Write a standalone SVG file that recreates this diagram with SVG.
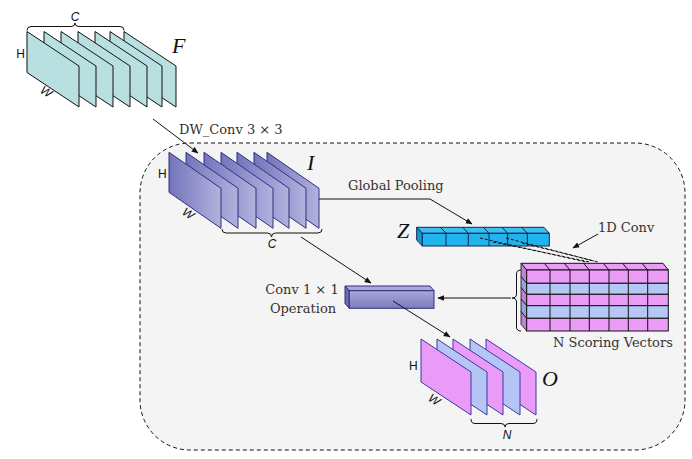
<svg xmlns="http://www.w3.org/2000/svg" width="692" height="459" viewBox="0 0 692 459">
<defs>
<style>
.lbl{font-family:"DejaVu Serif","Liberation Serif",serif;font-size:13px;fill:#333}
.big{font-family:"Liberation Serif","DejaVu Serif",serif;font-style:italic;font-size:22px;fill:#111}
.sans{font-family:"Liberation Sans",Arial,sans-serif;font-size:12px;fill:#111}
.it{font-style:italic}
.con{fill:none;stroke:#111;stroke-width:1}
.brace{fill:none;stroke:#111;stroke-width:1}
.fp{fill:#b8e0e0;stroke:#111;stroke-width:1}
.ip{fill:url(#gI);stroke:#2e2e80;stroke-width:1}
.pk{fill:#ea9bf7;stroke:#3a3aa0;stroke-width:1}
.bl{fill:#b5c5f6;stroke:#3a3aa0;stroke-width:1}
.zf{fill:#20b3ee;stroke:#10284a;stroke-width:1}
.zt{fill:#3cc0f2;stroke:#10284a;stroke-width:1}
.zl{fill:#1898d2;stroke:#10284a;stroke-width:1}
.gp{fill:#ea9cf6;stroke:#111;stroke-width:1}
.gb{fill:#b5c8f5;stroke:#111;stroke-width:1}
.gpl{fill:#c47fd8;stroke:#111;stroke-width:0.8}
.gbl{fill:#90a6d6;stroke:#111;stroke-width:0.8}
.ln{stroke:#111;stroke-width:1}
.zln{stroke:#10284a;stroke-width:1}
</style>
<linearGradient id="gI" x1="0" y1="0" x2="1" y2="0">
<stop offset="0" stop-color="#7474bb"/>
<stop offset="1" stop-color="#b2b2de"/>
</linearGradient>
<linearGradient id="gC" x1="0" y1="0" x2="0" y2="1">
<stop offset="0" stop-color="#a8a8d8"/>
<stop offset="1" stop-color="#7c7cc0"/>
</linearGradient>
<marker id="ah" viewBox="0 0 10 10" refX="9" refY="5" markerWidth="7" markerHeight="7" orient="auto" markerUnits="userSpaceOnUse">
<path d="M0,1 L10,5 L0,9 z" fill="#111"/>
</marker>
<polygon id="fplate" points="0,0 52,34.5 52,75.5 0,41"/>
<polygon id="iplate" points="0,0 52,36 52,76 0,40"/>
<polygon id="oplate" points="0,0 50,33 50,76 0,43"/>
</defs>
<rect width="692" height="459" fill="#ffffff"/>
<rect id="container" x="140" y="143" width="545" height="307" rx="50" ry="50" fill="#f4f4f4" stroke="#111" stroke-width="1" stroke-dasharray="4,3"/>

<g id="F">
<use href="#fplate" class="fp" x="124" y="31.5"/>
<use href="#fplate" class="fp" x="110" y="31.5"/>
<use href="#fplate" class="fp" x="95" y="31.5"/>
<use href="#fplate" class="fp" x="78" y="31.5"/>
<use href="#fplate" class="fp" x="61" y="31.5"/>
<use href="#fplate" class="fp" x="44" y="31.5"/>
<use href="#fplate" class="fp" x="27" y="31.5"/>
<path class="brace" d="M27,30.5 Q27,26.5 31,26.5 L71,26.5 Q75,26.5 75,23 Q75,26.5 79,26.5 L120,26.5 Q124,26.5 124,30.5"/>
<text class="sans it" x="75" y="21" text-anchor="middle">C</text>
<text class="sans" x="20.5" y="57.5" text-anchor="middle">H</text>
<text class="sans it" transform="translate(44,95) rotate(33)" text-anchor="middle">W</text>
<text class="big" x="172" y="53">F</text>
</g>

<g id="I">
<use href="#iplate" class="ip" x="267" y="152.3"/>
<use href="#iplate" class="ip" x="254" y="152.3"/>
<use href="#iplate" class="ip" x="237" y="152.3"/>
<use href="#iplate" class="ip" x="221" y="152.3"/>
<use href="#iplate" class="ip" x="204" y="152.3"/>
<use href="#iplate" class="ip" x="186" y="152.3"/>
<use href="#iplate" class="ip" x="169" y="152.3"/>
<path class="brace" d="M222,229 Q222,233 226,233 L267.5,233 Q271.5,233 271.5,237 Q271.5,233 275.5,233 L318,233 Q322,233 322,229"/>
<text class="sans it" x="272" y="248" text-anchor="middle">C</text>
<text class="sans" x="162.3" y="177.5" text-anchor="middle">H</text>
<text class="sans it" transform="translate(186,217) rotate(34)" text-anchor="middle">W</text>
<text class="big" x="307" y="170">I</text>
</g>

<g id="Z">
<polygon class="zt" points="416.7,227.3 544,227.3 549.3,233.3 422.3,233.3"/>
<polygon class="zl" points="416.7,227.3 422.3,233.3 422.3,246 416.7,240"/>
<rect class="zf" x="422.3" y="233.3" width="127" height="12.7"/>
<g class="zln">
<line x1="446" y1="233.3" x2="446" y2="246"/><line x1="446" y1="233.3" x2="440.4" y2="227.3"/>
<line x1="468.3" y1="233.3" x2="468.3" y2="246"/><line x1="468.3" y1="233.3" x2="462.7" y2="227.3"/>
<line x1="489" y1="233.3" x2="489" y2="246"/><line x1="489" y1="233.3" x2="483.4" y2="227.3"/>
<line x1="507.7" y1="233.3" x2="507.7" y2="246"/><line x1="507.7" y1="233.3" x2="502.1" y2="227.3"/>
<line x1="527.3" y1="233.3" x2="527.3" y2="246"/><line x1="527.3" y1="233.3" x2="521.7" y2="227.3"/>
</g>
<text class="big" x="397" y="238">Z</text>
</g>

<g id="grid">
<polygon class="gp" points="521,263.3 663,263.3 668.3,270 526.7,270"/>
<polygon class="gpl" points="521,263.3 526.7,270 526.7,283.3 521,276.6"/>
<polygon class="gbl" points="521,276.6 526.7,283.3 526.7,294.3 521,287.6"/>
<polygon class="gpl" points="521,287.6 526.7,294.3 526.7,305.7 521,299"/>
<polygon class="gbl" points="521,299 526.7,305.7 526.7,318.3 521,311.6"/>
<polygon class="gpl" points="521,311.6 526.7,318.3 526.7,331 521,324.3"/>
<rect class="gp" x="526.7" y="270" width="141.6" height="13.3"/>
<rect class="gb" x="526.7" y="283.3" width="141.6" height="11"/>
<rect class="gp" x="526.7" y="294.3" width="141.6" height="11.4"/>
<rect class="gb" x="526.7" y="305.7" width="141.6" height="12.6"/>
<rect class="gp" x="526.7" y="318.3" width="141.6" height="12.7"/>
<g class="ln">
<line x1="550" y1="270" x2="550" y2="331"/>
<line x1="570" y1="270" x2="570" y2="331"/>
<line x1="589.3" y1="270" x2="589.3" y2="331"/>
<line x1="609" y1="270" x2="609" y2="331"/>
<line x1="628.3" y1="270" x2="628.3" y2="331"/>
<line x1="647.7" y1="270" x2="647.7" y2="331"/>
<line x1="550" y1="270" x2="544.3" y2="263.3"/>
<line x1="570" y1="270" x2="564.3" y2="263.3"/>
<line x1="589.3" y1="270" x2="583.6" y2="263.3"/>
<line x1="609" y1="270" x2="603.3" y2="263.3"/>
<line x1="628.3" y1="270" x2="622.6" y2="263.3"/>
<line x1="647.7" y1="270" x2="642" y2="263.3"/>
</g>
<path class="brace" d="M521,270 Q516.5,270 516.5,274 L516.5,294 Q516.5,298 512,298 Q516.5,298 516.5,302 L516.5,327 Q516.5,331 521,331"/>
<text class="lbl" x="553" y="347">N Scoring Vectors</text>
</g>

<g id="conv">
<polygon points="345,286 430,286 434,290.7 349.3,290.7" fill="#a9a9da" stroke="#2f2f80" stroke-width="1"/>
<polygon points="345,286 349.3,290.7 349.3,308.3 345,303.6" fill="#6c6cb0" stroke="#2f2f80" stroke-width="1"/>
<rect x="349.3" y="290.7" width="84.7" height="17.6" fill="url(#gC)" stroke="#2f2f80" stroke-width="1"/>
<text class="lbl" x="302" y="294" text-anchor="middle">Conv 1 × 1</text>
<text class="lbl" x="303" y="313" text-anchor="middle">Operation</text>
</g>

<g id="O">
<use href="#oplate" class="pk" x="486" y="339"/>
<use href="#oplate" class="bl" x="470" y="339"/>
<use href="#oplate" class="pk" x="453" y="339"/>
<use href="#oplate" class="bl" x="437" y="339"/>
<use href="#oplate" class="pk" x="421" y="339"/>
<path class="brace" d="M471,419 Q471,423.5 475,423.5 L501,423.5 Q505,423.5 505,427 Q505,423.5 509,423.5 L533,423.5 Q537,423.5 537,419"/>
<text class="sans it" x="507" y="438.5" text-anchor="middle">N</text>
<text class="sans" x="413.3" y="369.5" text-anchor="middle">H</text>
<text class="sans it" transform="translate(432,403) rotate(33)" text-anchor="middle">W</text>
<text class="big" x="542" y="386">O</text>
</g>

<g id="connectors">
<line class="con" x1="153" y1="119" x2="198" y2="153" marker-end="url(#ah)"/>
<polyline class="con" points="319,199 430,199 472,224" marker-end="url(#ah)"/>
<line class="con" x1="598" y1="234" x2="573" y2="248" marker-end="url(#ah)"/>
<line class="con" x1="301" y1="237" x2="371" y2="283" marker-end="url(#ah)"/>
<line class="con" x1="511" y1="298" x2="438" y2="298" marker-end="url(#ah)"/>
<line class="con" x1="393" y1="301" x2="450" y2="337" marker-end="url(#ah)"/>
<g class="con" stroke-dasharray="3,2">
<line x1="480" y1="238" x2="586" y2="262"/>
<line x1="493" y1="242" x2="590" y2="262"/>
<line x1="506" y1="238" x2="594" y2="261"/>
<line x1="522" y1="243" x2="598" y2="262"/>
</g>
<text class="lbl" x="179" y="134">DW_Conv 3 × 3</text>
<text class="lbl" x="348" y="190">Global Pooling</text>
<text class="lbl" x="598" y="232">1D Conv</text>
</g>
</svg>
